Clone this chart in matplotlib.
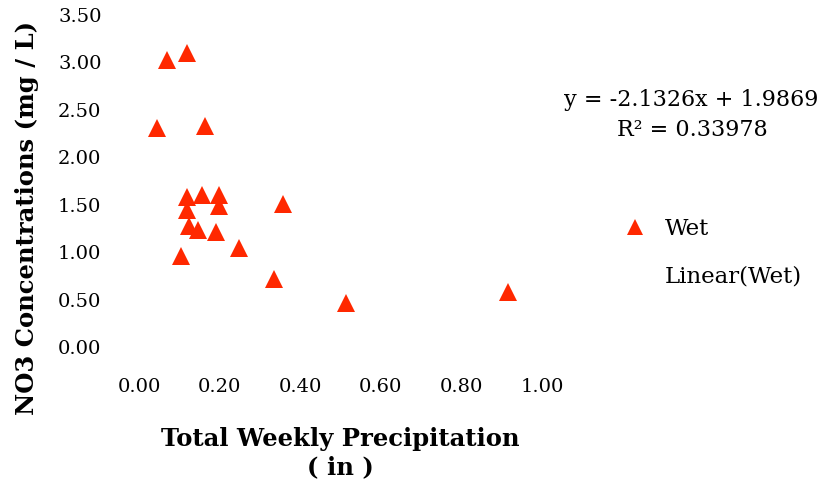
import matplotlib
matplotlib.use("Agg")
import matplotlib.pyplot as plt
from matplotlib.lines import Line2D
import numpy as np

plt.rcParams['font.family'] = ['DejaVu Serif']

# Data
precip_in = [0.069, 0.120, 0.045, 0.164, 0.118, 0.156, 0.199, 0.199, 0.118,
             0.125, 0.146, 0.191, 0.358, 0.103, 0.247, 0.336, 0.514, 0.916]
no3_mgL = [3.03, 3.10, 2.31, 2.33, 1.58, 1.60, 1.60, 1.49, 1.44,
           1.28, 1.23, 1.21, 1.51, 0.96, 1.04, 0.72, 0.46, 0.58]
x_ticks = [0.0, 0.2, 0.4, 0.6, 0.8, 1.0]
y_ticks = [0.0, 0.5, 1.0, 1.5, 2.0, 2.5, 3.0, 3.5]
series_name = "Wet"
trend_label = "Linear(Wet)"
equation = "y = -2.1326x + 1.9869"
r2_text = "R\u00b2 = 0.33978"

W, H = 823, 484
fig = plt.figure(figsize=(W / 100, H / 100), dpi=100)
ax = fig.add_axes([139 / W, (H - 347) / H, 403 / W, 332 / H])

red = '#FF2800'
ax.plot(precip_in, no3_mgL, linestyle='none', marker='^', markersize=13,
        color=red, markeredgewidth=0, clip_on=False)

ax.set_xlim(0, 1.0)
ax.set_ylim(0, 3.5)
ax.set_xticks(x_ticks)
ax.set_xticklabels([f"{v:.2f}" for v in x_ticks])
ax.set_yticks(y_ticks)
ax.set_yticklabels([f"{v:.2f}" for v in y_ticks])
for s in ax.spines.values():
    s.set_visible(False)
ax.tick_params(axis='both', length=0, labelsize=14, colors='black')
ax.tick_params(axis='y', pad=27)
ax.tick_params(axis='x', pad=22)

# Axis titles
fig.text(340 / W, 1 - 439 / H, "Total Weekly Precipitation",
         ha='center', va='center', fontsize=17.5, fontweight='bold')
fig.text(340 / W, 1 - 467 / H, "( in )",
         ha='center', va='center', fontsize=17.5, fontweight='bold')
fig.text(27 / W, 1 - 218 / H, "NO3 Concentrations (mg / L)", rotation=90,
         ha='center', va='center', fontsize=17.5, fontweight='bold')

# Trendline equation
fig.text(691 / W, 1 - 100 / H, equation, ha='center', va='center', fontsize=16)
fig.text(692 / W, 1 - 130 / H, r2_text, ha='center', va='center', fontsize=16)

# Legend
handles = [Line2D([], [], linestyle='none', marker='^', markersize=12,
                  color=red, markeredgewidth=0),
           Line2D([], [], linestyle='none')]
fig.legend(handles, [series_name, trend_label], loc='upper left',
           bbox_to_anchor=(622 / W, 1 - 218 / H), frameon=False,
           fontsize=16.5, handlelength=1.1, handletextpad=0.75,
           labelspacing=1.13, borderpad=0, borderaxespad=0)

fig.savefig("out.png", dpi=100)
